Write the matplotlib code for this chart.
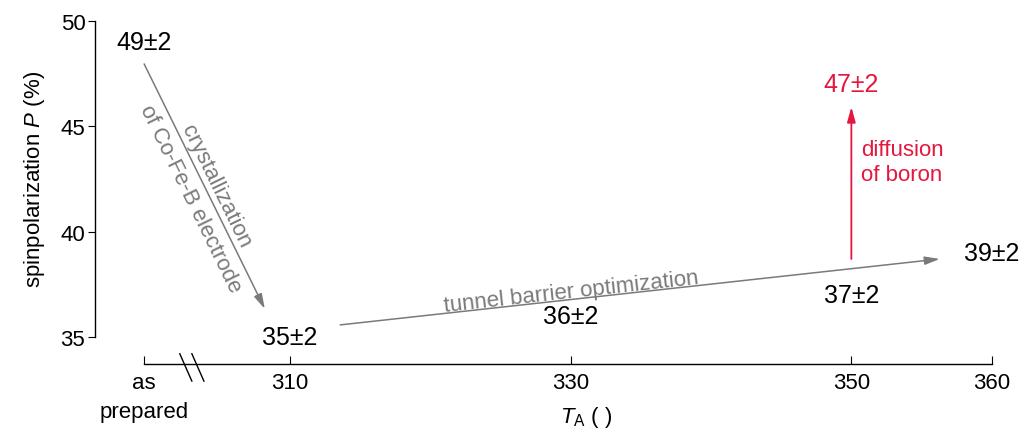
from matplotlib import pyplot as plt

plt.rcParams['font.family'] = ['Liberation Sans', 'DejaVu Sans']
plt.rcParams['mathtext.fontset'] = 'custom'
plt.rcParams['mathtext.rm'] = 'Liberation Sans'
plt.rcParams['mathtext.it'] = 'Liberation Sans:italic'

# data
temps = [299.6, 310, 330, 350, 360]          # first entry stands for "as prepared"
tick_labels = ['as\nprepared', '310', '330', '350', '360']
values = [49, 35, 36, 37, 39]                 # spinpolarization (%)
errors = [2, 2, 2, 2, 2]
boron_temp = 350
boron_value = 47
boron_error = 2

gray = '#7a7a7a'
red = '#e5173f'

fig = plt.figure(figsize=(10.33, 4.31), dpi=100)
ax = fig.add_axes([0.092, 0.216, 0.868, 0.733])
ax.set_xlim(296.1, 360)
ax.set_ylim(35, 50)

# spines
ax.spines['top'].set_visible(False)
ax.spines['right'].set_visible(False)
ax.spines['bottom'].set_position(('outward', 19.5))
ax.spines['bottom'].set_bounds(temps[0], temps[-1])
ax.spines['left'].set_bounds(35, 50)
for s in ('bottom', 'left'):
    ax.spines[s].set_linewidth(1.0)

ax.set_xticks(temps)
ax.set_xticklabels(tick_labels, fontsize=16, linespacing=1.5)
ax.set_yticks([35, 40, 45, 50])
ax.tick_params(axis='x', direction='in', length=6, pad=6)
ax.tick_params(axis='y', direction='out', length=5, pad=2, labelsize=16)

ax.set_ylabel('spinpolarization $\\it{P}$ (%)', fontsize=16, labelpad=10)
ax.set_xlabel('$\\it{T}_{\\rm A}$ ( )', fontsize=16)
ax.xaxis.set_label_coords(0.548, -0.212)

# value labels
for t, v, e in zip(temps, values, errors):
    ax.text(t, v, f'{v}\u00b1{e}', fontsize=18, ha='center', va='center')
ax.text(boron_temp, boron_value, f'{boron_value}\u00b1{boron_error}',
        fontsize=18, ha='center', va='center', color=red)

# arrows
arrow_kw = dict(arrowstyle='-|>,head_length=0.9,head_width=0.25', color=gray,
                lw=1.1, shrinkA=0, shrinkB=0)
ax.annotate('', xy=(temps[1] - 1.8, values[1] + 1.33),
            xytext=(temps[0], values[0] - 1.04), arrowprops=arrow_kw)
ax.annotate('', xy=(temps[-1] - 3.7, values[-1] - 0.3),
            xytext=(temps[1] + 3.57, values[1] + 0.57), arrowprops=arrow_kw)
red_kw = dict(arrow_kw, color=red, lw=1.3)
ax.annotate('', xy=(boron_temp, boron_value - 1.08),
            xytext=(boron_temp, values[-1] - 0.3), arrowprops=red_kw)

# arrow captions
ax.text(303.8, 41.9, 'crystallization\nof Co-Fe-B electrode', fontsize=16,
        color=gray, rotation=-63.9, rotation_mode='anchor',
        ha='center', va='center', linespacing=1.45)
ax.text(330, 37.15, 'tunnel barrier optimization', fontsize=16, color=gray,
        rotation=6.3, rotation_mode='anchor', ha='center', va='center')
ax.text(350.7, 43.3, 'diffusion\nof boron', fontsize=16, color=red,
        ha='left', va='center', linespacing=1.3)

# axis break marks
for dx in (0, 0.86):
    ax.plot([302.14 + dx, 303.0 + dx], [34.2, 32.9], color='black', lw=1.0,
            clip_on=False)

fig.savefig('out.png', dpi=100)
